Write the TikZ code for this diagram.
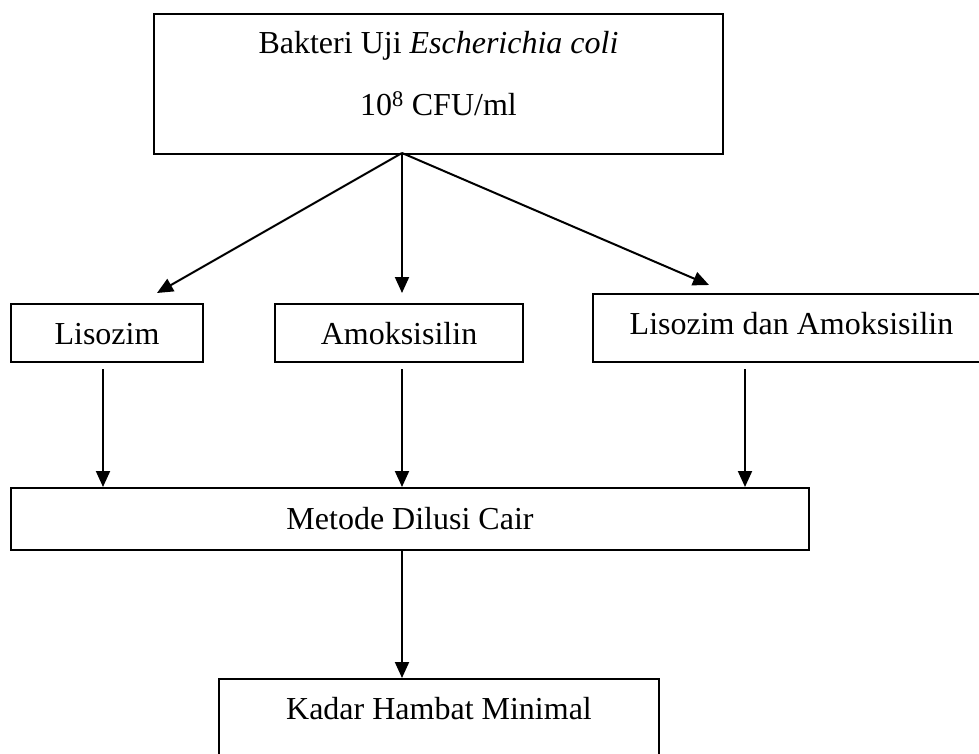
\documentclass[tikz,border=0pt]{standalone}
\usepackage{fontspec}
\setmainfont{Liberation Serif}
\usetikzlibrary{arrows.meta}

\begin{document}
\begin{tikzpicture}[x=1pt,y=-1pt,line width=2pt,
    box/.style={draw,anchor=north,inner xsep=0pt,inner ysep=0pt,font=\fontsize{32}{62}\selectfont},
    arr/.style={-{Triangle[length=16pt,width=14pt]}}]
    \useasboundingbox (0,0) rectangle (979,754);
    \clip (0,0) rectangle (979,754);
    \node at (438.5,13) [box,minimum width=569,text height=102,text depth=38] (bak)
        {\begin{tabular}[b]{@{}c@{}}Bakteri Uji \textit{Escherichia coli}\\10\textsuperscript{8} CFU/ml\end{tabular}};
    \node at (107,303) [box,minimum width=192,text height=40,text depth=18] (lis) {Lisozim};
    \node at (399,303) [box,minimum width=248,text height=40,text depth=18] (amo) {Amoksisilin};
    \node at (791.5,293) [box,minimum width=397,text height=40,text depth=28] (lda) {Lisozim dan Amoksisilin};
    \node at (410,487) [box,minimum width=798,text height=41,text depth=21] (met) {Metode Dilusi Cair};
    \node at (439,678) [box,minimum width=440,text height=40,text depth=90] (kad) {Kadar Hambat Minimal};
    \coordinate (split) at (402,153);
    \coordinate (tl) at (157,293);
    \coordinate (tr) at (709,285);
    \draw[arr] (split) -- (tl);
    \draw[arr,shorten >=10pt] (split) -- (split |- amo.north);
    \draw[arr] (split) -- (tr);
    \draw[arr,shorten <=6pt] ([xshift=-4pt]lis.south) -- ([xshift=-4pt]lis.south |- met.north);
    \draw[arr,shorten <=6pt] (amo.south -| split) -- (met.north -| split);
    \draw[arr,shorten <=6pt] ([xshift=-46.5pt]lda.south) -- ([xshift=-46.5pt]lda.south |- met.north);
    \draw[arr] (met.south -| split) -- (kad.north -| split);
\end{tikzpicture}
\end{document}
